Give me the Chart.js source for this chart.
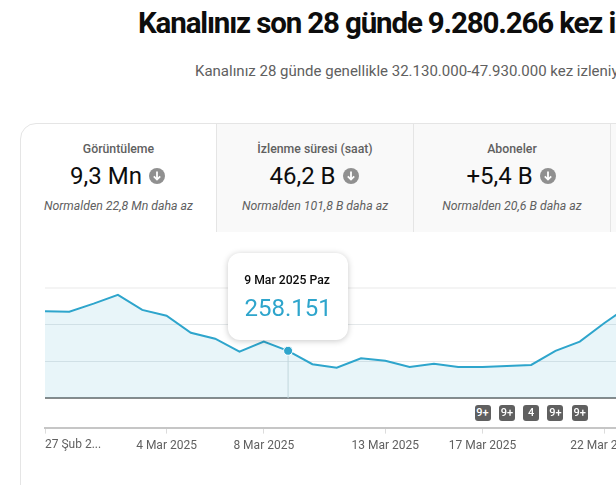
<!DOCTYPE html>
<html lang="tr">
<head>
<meta charset="utf-8">
<title>Kanal analizi</title>
<script src="https://cdn.jsdelivr.net/npm/chart.js@4"></script>
<style>
  html, body { margin: 0; padding: 0; width: 616px; height: 485px; overflow: hidden; background: #fff; font-family: Roboto, sans-serif; }
  .abs { position: absolute; white-space: nowrap; }
  #title { left: 138px; top: 5px; font-size: 29.5px; line-height: 36px; font-weight: 700; color: #0d0d0d; letter-spacing: -1.15px; }
  #subtitle { left: 195px; top: 62px; font-size: 15px; line-height: 18px; color: #606060; }
  #card { left: 20px; top: 123px; width: 800px; height: 500px; border: 1px solid #e5e5e5; border-radius: 16px; box-sizing: border-box; }
  .tab { position: absolute; top: 124px; height: 108px; text-align: center; box-sizing: border-box; color: #0d0d0d; }
  .tab .name { position: absolute; left: 0; right: 0; top: 18px; font-size: 12.3px; line-height: 14px; font-weight: 500; color: #606060; }
  .tab .num { position: absolute; left: 0; right: 2px; top: 37px; font-size: 24px; line-height: 30px; }
  .tab .num svg { width: 16px; height: 16px; vertical-align: 0; margin-left: 1px; }
  .tab .note { position: absolute; left: 0; right: 0; top: 75px; font-size: 12.3px; line-height: 14px; font-style: italic; color: #606060; }
  #chartBox { position: absolute; left: 0; top: 240px; }
  #tip { position: absolute; width: 120px; height: 87px; background: #fff; border-radius: 12px; box-shadow: 0 1px 6px rgba(0,0,0,.22); text-align: center; }
  #tipDate { margin-top: 19px; font-size: 12.2px; line-height: 16px; font-weight: 500; color: #0d0d0d; padding-right: 2px; }
  #tipValue { margin-top: 5px; font-size: 24px; line-height: 30px; color: #2ea5cc; }
  .badge { position: absolute; top: 405px; width: 16px; height: 16px; margin-left: -8px; background: #606060; color: #fff; border-radius: 3px; font-size: 11px; font-weight: 500; line-height: 16px; text-align: center; }
</style>
</head>
<body>
<div id="title" class="abs">Kanalınız son 28 günde 9.280.266 kez izlendi</div>
<div id="subtitle" class="abs">Kanalınız 28 günde genellikle 32.130.000-47.930.000 kez izleniyor</div>
<div id="card" class="abs"></div>
<div id="tabs"></div>
<div id="chartBox"><canvas id="viewsChart" width="640" height="225"></canvas></div>
<div id="tip"><div id="tipDate"></div><div id="tipValue"></div></div>
<script>
const days = ['27 Şub 2025', '28 Şub 2025', '1 Mar 2025', '2 Mar 2025', '3 Mar 2025', '4 Mar 2025', '5 Mar 2025', '6 Mar 2025', '7 Mar 2025', '8 Mar 2025', '9 Mar 2025', '10 Mar 2025', '11 Mar 2025', '12 Mar 2025', '13 Mar 2025', '14 Mar 2025', '15 Mar 2025', '16 Mar 2025', '17 Mar 2025', '18 Mar 2025', '19 Mar 2025', '20 Mar 2025', '21 Mar 2025', '22 Mar 2025', '23 Mar 2025'];
const views = [474000, 471000, 515000, 563000, 481000, 449000, 356000, 324000, 253000, 308000, 258151, 185000, 166000, 217000, 204000, 170000, 188000, 170000, 170000, 175000, 181000, 258000, 308000, 408000, 500000];
const yTicks = [0, 200000, 400000, 600000];
const labelledDays = ['4 Mar 2025', '8 Mar 2025', '13 Mar 2025', '17 Mar 2025', '22 Mar 2025'];
const firstLabel = '27 Şub 2...';
const badgeDays = ['17 Mar 2025', '18 Mar 2025', '19 Mar 2025', '20 Mar 2025', '21 Mar 2025'];
const badgeTexts = ['9+', '9+', '4', '9+', '9+'];
const tabNames = ['Görüntüleme', 'İzlenme süresi (saat)', 'Aboneler'];
const tabValues = ['9,3 Mn', '46,2 B', '+5,4 B'];
const tabNotes = ['Normalden 22,8 Mn daha az', 'Normalden 101,8 B daha az', 'Normalden 20,6 B daha az'];
const tabLefts = [21, 216, 413, 610];
const selectedDay = '9 Mar 2025';
const selectedText = '9 Mar 2025 Paz';
const selectedValue = '258.151';

const lineColor = '#2ea5cc';
const selectedIndex = days.indexOf(selectedDay);
const arrowIcon = '<svg viewBox="0 0 16 16"><circle cx="8" cy="8" r="8" fill="#909090"/><path d="M8 3.5v8M4.8 8.4 8 11.6l3.2-3.2" stroke="#fff" stroke-width="1.8" fill="none"/></svg>';

// metric tabs above the chart
const tabsEl = document.getElementById('tabs');
tabNames.forEach((name, i) => {
  const tab = document.createElement('div');
  tab.className = 'tab';
  tab.style.left = tabLefts[i] + 'px';
  tab.style.width = (tabLefts[i + 1] - tabLefts[i]) + 'px';
  if (i > 0) {
    tab.style.background = '#f9f9f9';
    tab.style.borderLeft = '1px solid #e5e5e5';
  }
  tab.innerHTML = `<div class="name">${name}</div><div class="num">${tabValues[i]} ${arrowIcon}</div><div class="note">${tabNotes[i]}</div>`;
  tabsEl.appendChild(tab);
});
// start of the fourth tab, cut off by the window
const lastTab = document.createElement('div');
lastTab.className = 'tab';
lastTab.style.left = tabLefts[3] + 'px';
lastTab.style.width = '6px';
lastTab.style.background = '#f9f9f9';
lastTab.style.borderLeft = '1px solid #e5e5e5';
tabsEl.appendChild(lastTab);

const crosshair = {
  id: 'crosshair',
  beforeDatasetsDraw(chart) {
    const { ctx, scales } = chart;
    const x = scales.x.getPixelForValue(selectedIndex);
    ctx.save();
    ctx.strokeStyle = '#d3dcdf';
    ctx.lineWidth = 1;
    ctx.beginPath();
    ctx.moveTo(x, scales.y.getPixelForValue(views[selectedIndex]));
    ctx.lineTo(x, scales.y.getPixelForValue(0));
    ctx.stroke();
    ctx.restore();
  },
  afterDraw(chart) {
    // first label sits left aligned on its tick, the axis can only centre them
    const { ctx, scales } = chart;
    ctx.save();
    ctx.font = '12px Roboto';
    ctx.fillStyle = '#606060';
    ctx.textAlign = 'left';
    ctx.textBaseline = 'middle';
    ctx.fillText(firstLabel, scales.x.getPixelForValue(0), 204.5);
    ctx.restore();
  }
};

const chart = new Chart(document.getElementById('viewsChart'), {
  type: 'line',
  data: {
    labels: days,
    datasets: [{
      label: 'Görüntüleme',
      data: views,
      borderColor: lineColor,
      borderWidth: 2,
      backgroundColor: 'rgba(46,165,204,0.11)',
      fill: 'origin',
      tension: 0,
      pointRadius: days.map((_, index) => (index === selectedIndex ? 4.5 : 0)),
      pointBackgroundColor: lineColor,
      pointBorderColor: '#fff',
      pointBorderWidth: 1
    }]
  },
  options: {
    responsive: false,
    animation: false,
    events: [],
    layout: { padding: { left: 45, right: 11.6, top: 48, bottom: 7 } },
    plugins: { legend: { display: false }, tooltip: { enabled: false } },
    scales: {
      x: {
        offset: false,
        grid: {
          drawOnChartArea: false,
          tickLength: 6,
          tickColor: (ctx) => (ctx.index === 0 || (ctx.tick && labelledDays.includes(days[ctx.index])) ? '#dcdcdc' : 'transparent')
        },
        border: { color: '#c6c6c6', width: 2 },
        ticks: {
          autoSkip: false,
          maxRotation: 0,
          padding: 5,
          color: '#606060',
          font: { family: 'Roboto', size: 12 },
          callback: (value, index) => (labelledDays.includes(days[index]) ? days[index] : '')
        }
      },
      y: {
        min: -160000,
        max: 600000,
        afterBuildTicks: (scale) => { scale.ticks = yTicks.map((value) => ({ value })); },
        ticks: { display: false },
        border: { display: false },
        grid: {
          drawTicks: false,
          color: (ctx) => {
            if (!ctx.tick) return 'transparent';
            if (ctx.tick.value === 0) return '#8a8a8a';
            return ctx.tick.value === 600000 ? '#f4f4f4' : '#e4e8ea';
          },
          lineWidth: (ctx) => {
            if (!ctx.tick) return 1;
            return ctx.tick.value === 600000 || ctx.tick.value === 0 ? 2 : 1;
          }
        }
      }
    }
  },
  plugins: [crosshair]
});

// tooltip card and the notification badges follow the scale
const pointX = chart.scales.x.getPixelForValue(selectedIndex);
const tip = document.getElementById('tip');
tip.style.left = (pointX - 60) + 'px';
tip.style.top = '253px';
document.getElementById('tipDate').textContent = selectedText;
document.getElementById('tipValue').textContent = selectedValue;

badgeDays.forEach((day, i) => {
  const badge = document.createElement('div');
  badge.className = 'badge';
  badge.textContent = badgeTexts[i];
  badge.style.left = chart.scales.x.getPixelForValue(days.indexOf(day)) + 'px';
  document.body.appendChild(badge);
});
</script>
</body>
</html>
